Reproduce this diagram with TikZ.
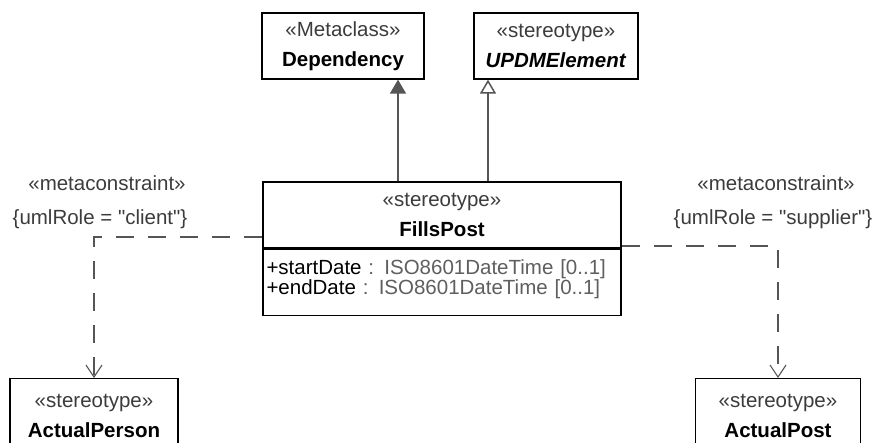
\documentclass[tikz,border=0pt]{standalone}
\usepackage{fontspec}
\setmainfont{Liberation Sans}
\usetikzlibrary{arrows.meta,calc}
\definecolor{uline}{RGB}{85,85,85}
\definecolor{ustereo}{RGB}{60,60,60}
\definecolor{utype}{RGB}{95,95,95}
\tikzset{
  umlsec/.style={x=1pt,y=-1pt,font=\fontsize{20.5}{30}\selectfont},
  classbox/.style={draw=black,line width=1.3pt,fill=white,align=center,inner sep=0pt,minimum height=66pt},
  genline/.style={draw=uline,line width=1.5pt},
  depline/.style={draw=uline,line width=1.1pt,dash pattern=on 18pt off 14pt,
    -{Straight Barb[length=12pt,width=16pt,line width=1.1pt]}},
  metalabel/.style={text=ustereo,inner sep=0pt}
}
\newcommand{\stereo}[1]{{\color{ustereo}«#1»}}

\begin{document}
\begin{tikzpicture}[umlsec]
    \useasboundingbox (0,0) rectangle (881,442);
    \clip (0,0) rectangle (881,442);
    \node[classbox,minimum width=162pt] (dependency) at (343,46) {\stereo{Metaclass}\\\textbf{Dependency}};
    \node[classbox,minimum width=164pt] (updm) at (556,46) {\stereo{stereotype}\\\textbf{\textit{UPDMElement}}};
    \node[classbox,minimum width=358pt] (fp) at (442,215) {\stereo{stereotype}\\\textbf{FillsPost}};
    \node[classbox,minimum width=358pt,anchor=north,align=left,text width=351pt,
      font=\fontsize{20.5}{20}\selectfont] (fpattr) at (fp.south)
      {+startDate {\color{utype}: ISO8601DateTime [0..1]}\\+endDate {\color{utype}: ISO8601DateTime [0..1]}\vspace{6pt}};
    \node[classbox,minimum width=168pt,minimum height=74pt,anchor=north] (person) at (94,378) {\stereo{stereotype}\\\textbf{ActualPerson}};
    \node[classbox,minimum width=165pt,minimum height=74pt,anchor=north] (post) at (778,378) {\stereo{stereotype}\\\textbf{ActualPost}};
    % generalizations
    \coordinate (depfoot) at ($(fp.north)+(-44,0)$);
    \coordinate (updmfoot) at ($(fp.north)+(46,0)$);
    \draw[genline,-{Triangle[length=14pt,width=16pt]}] (depfoot) -- (depfoot |- dependency.south);
    \draw[genline,-{Triangle[open,length=14pt,width=16pt,fill=white]}] (updmfoot) -- (updmfoot |- updm.south);
    % metaconstraints
    \node[metalabel] (clientstereo) at (107,183) {«metaconstraint»};
    \node[metalabel] (clientrole) at (100,219) {\{umlRole = \textquotedbl client\textquotedbl\}};
    \node[metalabel] (supstereo) at (776,183) {«metaconstraint»};
    \node[metalabel] (suprole) at (773,219) {\{umlRole = \textquotedbl supplier\textquotedbl\}};
    \coordinate (clientbend) at (94,237);
    \coordinate (supbend) at (778,246);
    \draw[depline] (fp.west |- clientbend) -- (clientbend) -- (person.north);
    \draw[depline] (fp.east |- supbend) -- (supbend) -- (post.north);
\end{tikzpicture}
\end{document}
